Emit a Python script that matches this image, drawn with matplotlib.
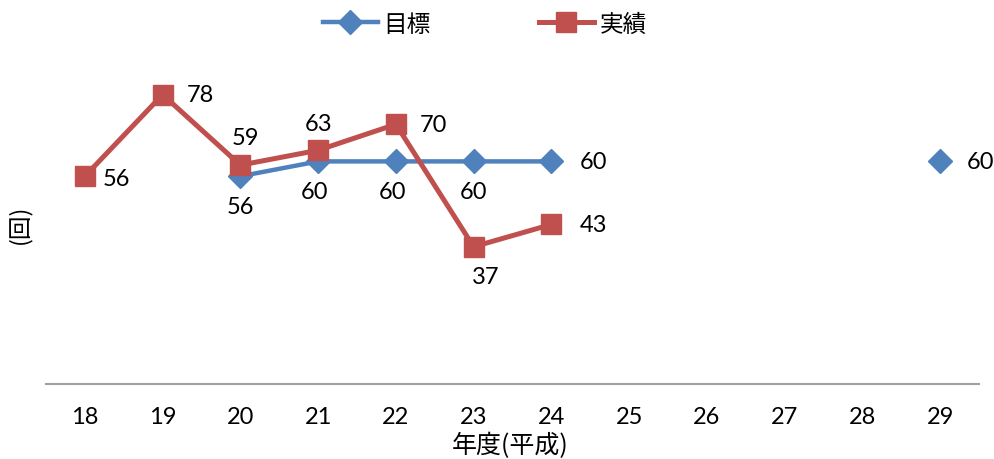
import numpy as np
import matplotlib
matplotlib.use("Agg")
import matplotlib.pyplot as plt

plt.rcParams['font.family'] = ['Lato', 'Noto Sans CJK JP', 'DejaVu Sans']

years = ['18', '19', '20', '21', '22', '23', '24', '25', '26', '27', '28', '29']
target = [np.nan, np.nan, 56, 60, 60, 60, 60, np.nan, np.nan, np.nan, np.nan, 60]
actual = [56, 78, 59, 63, 70, 37, 43, np.nan, np.nan, np.nan, np.nan, np.nan]

# label placement per point: (dx, dy) in pixels
target_pos = {2: (0, -30), 3: (-4, -30), 4: (-3, -30), 5: (0, -30), 6: (42, 0), 11: (40, 0)}
actual_pos = {0: (32, -2), 1: (38, 0), 2: (5, 28), 3: (0, 27), 4: (38, 0), 5: (12, -30), 6: (42, 0)}

blue = '#4F81BD'
red = '#C0504D'
cjk = ['Noto Sans CJK JP', 'DejaVu Sans']

fig = plt.figure(figsize=(9.94, 4.6), dpi=100)
ax = fig.add_axes([46 / 994, 75 / 460, 933 / 994, 371 / 460])
x = np.arange(len(years))

ax.plot(x, target, color=blue, lw=3.2, marker='D', ms=12, mec=blue, mfc=blue,
        label='目標', zorder=3)
ax.plot(x, actual, color=red, lw=3.6, marker='s', ms=14.5, mec=red, mfc=red,
        label='実績', zorder=4)

for i, v in enumerate(target):
    if not np.isnan(v) and i in target_pos:
        dx, dy = target_pos[i]
        ax.annotate(f'{v:.0f}', (x[i], v), xytext=(dx * 0.72, dy * 0.72),
                    textcoords='offset points', ha='center', va='center',
                    fontsize=17, color='black')
for i, v in enumerate(actual):
    if not np.isnan(v) and i in actual_pos:
        dx, dy = actual_pos[i]
        ax.annotate(f'{v:.0f}', (x[i], v), xytext=(dx * 0.72, dy * 0.72),
                    textcoords='offset points', ha='center', va='center',
                    fontsize=17, color='black')

ax.set_xlim(-0.5, 11.5)
ax.set_ylim(0, 100)
ax.set_xticks(x)
ax.set_xticklabels(years, fontsize=17)
ax.tick_params(axis='x', length=0, pad=16)
ax.set_yticks([])
for s in ['top', 'right', 'left']:
    ax.spines[s].set_visible(False)
ax.spines['bottom'].set_color('#A0A0A0')
ax.spines['bottom'].set_linewidth(1.5)

fig.text(510 / 994, 1 - 446 / 460, '年度(平成)', ha='center', va='center',
         fontsize=18, family=cjk)
fig.text(19 / 994, 1 - 224 / 460, '(回)', ha='center', va='center', rotation=90,
         fontsize=17, family=cjk)

leg = fig.legend(loc='center', bbox_to_anchor=(485 / 994, 1 - 25 / 460), ncol=2,
                 frameon=False, handlelength=2.3, columnspacing=4.6,
                 handletextpad=0.25, prop={'family': cjk, 'size': 17})

fig.savefig('out.png', dpi=100)
